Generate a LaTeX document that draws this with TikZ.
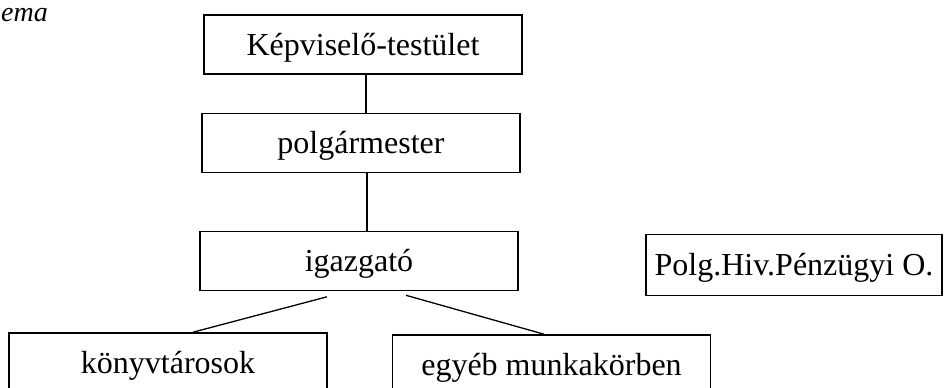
\documentclass[tikz,border=0pt]{standalone}
\usepackage{fontspec}
\setmainfont{Liberation Serif}
\begin{document}
\begin{tikzpicture}[x=1pt,y=-1pt]
		\tikzstyle{box}=[rectangle,draw=black,line width=1.6pt,minimum width=318pt,minimum height=59pt,inner sep=0pt,font=\fontsize{32}{38}\selectfont,text height=27.5pt,text depth=6.4pt]
		\tikzstyle{edge}=[draw=black,line width=1.3pt]

		\useasboundingbox (0,0) rectangle (950,388);

		 \node [anchor=base west,inner sep=0pt,font=\fontsize{28}{34}\selectfont\itshape] (cim) at (1,21) {ema};

		 \node [box] (kt) at (363,44.5) {Képviselő-testület};
		 \node [box] (pm) at (361,143) {polgármester};
		 \node [box] (ig) at (359,261) {igazgató};
		 \node [box,minimum width=296pt,minimum height=61pt] (ph) at (794,265) {Polg.Hiv.Pénzügyi O.};
		 \node [box,minimum height=60pt] (kv) at (168,363) {könyvtárosok};
		 \node [box,minimum height=60pt] (eg) at (551.5,365) {egyéb munkakörben};

		 \path[edge] ([xshift=3pt]kt.south) -- ([xshift=5pt]pm.north);
		 \path[edge] ([xshift=6pt]pm.south) -- ([xshift=8pt]ig.north);
		 \path[edge] ([xshift=-32pt,yshift=-5.5pt]ig.south) -- ([xshift=25pt]kv.north);
		 \path[edge] ([xshift=47pt,yshift=-4pt]ig.south) -- ([xshift=-7.5pt]eg.north);

	\end{tikzpicture}
\end{document}
